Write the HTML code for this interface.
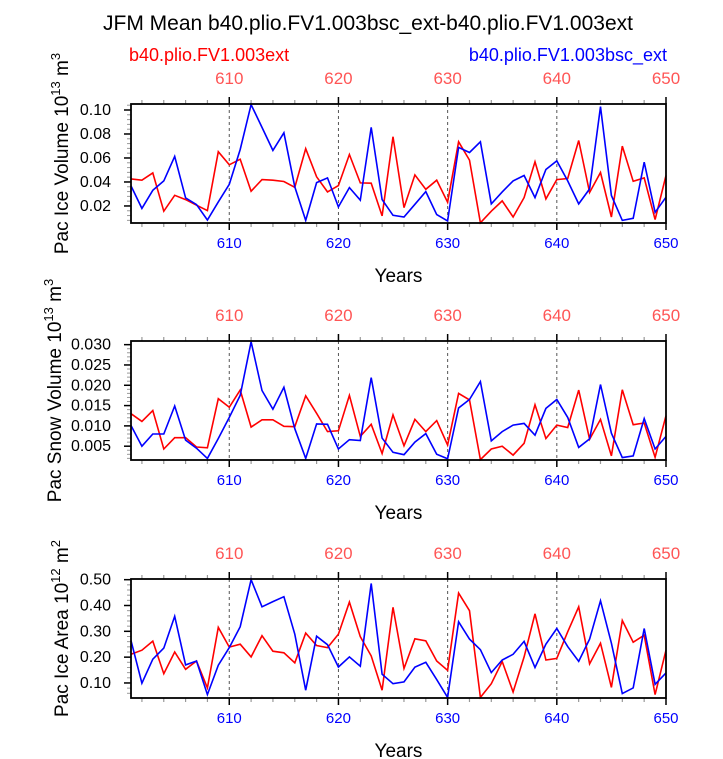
<!DOCTYPE html>
<html><head><meta charset="utf-8">
<style>
html,body{margin:0;padding:0;background:#fff;}
svg{display:block;font-family:"Liberation Sans",Arial,sans-serif;}
</style></head>
<body>
<svg id="chart" width="723" height="759" viewBox="0 0 723 759" xmlns="http://www.w3.org/2000/svg">
<text x="368" y="30" font-size="21" text-anchor="middle" fill="#000">JFM Mean b40.plio.FV1.003bsc_ext-b40.plio.FV1.003ext</text>
<text x="129" y="61" font-size="18" fill="#ff0000">b40.plio.FV1.003ext</text>
<text x="667" y="61" font-size="18" fill="#0000ff" text-anchor="end">b40.plio.FV1.003bsc_ext</text>
<g id="panels"></g>
</svg>
<script>
const years = [];
for (let y = 601; y <= 650; y++) years.push(y);
const xTicks = [610, 620, 630, 640, 650];

const iceVolRed = [0.0426,0.0415,0.0476,0.0156,0.0289,0.0253,0.0206,0.0161,0.0652,0.0543,0.0590,0.0323,0.0420,0.0415,0.0404,0.0356,0.0677,0.0443,0.0317,0.0370,0.0629,0.0392,0.0390,0.0117,0.0777,0.0186,0.0459,0.0339,0.0415,0.0231,0.0735,0.0582,0.0060,0.0156,0.0242,0.0108,0.0270,0.0568,0.0259,0.0420,0.0429,0.0746,0.0312,0.0479,0.0108,0.0699,0.0406,0.0434,0.0086,0.0454];
const iceVolBlue = [0.0367,0.0180,0.0331,0.0409,0.0613,0.0267,0.0211,0.0083,0.0234,0.0381,0.0671,0.1045,0.0855,0.0663,0.0810,0.0359,0.0080,0.0395,0.0434,0.0192,0.0353,0.0248,0.0855,0.0253,0.0122,0.0108,0.0214,0.0320,0.0128,0.0075,0.0688,0.0646,0.0735,0.0217,0.0317,0.0409,0.0454,0.0270,0.0504,0.0576,0.0409,0.0217,0.0342,0.1028,0.0287,0.0080,0.0097,0.0565,0.0147,0.0273];
const snowRed = [0.0130,0.0111,0.0138,0.0043,0.0071,0.0071,0.0048,0.0046,0.0167,0.0146,0.0188,0.0097,0.0115,0.0115,0.0099,0.0098,0.0174,0.0131,0.0086,0.0088,0.0175,0.0074,0.0104,0.0032,0.0127,0.0051,0.0116,0.0086,0.0113,0.0053,0.0180,0.0164,0.0017,0.0043,0.0050,0.0028,0.0057,0.0152,0.0069,0.0102,0.0096,0.0188,0.0067,0.0116,0.0026,0.0189,0.0103,0.0107,0.0023,0.0125];
const snowBlue = [0.0101,0.0050,0.0080,0.0080,0.0149,0.0065,0.0045,0.0020,0.0069,0.0121,0.0175,0.0307,0.0187,0.0141,0.0195,0.0093,0.0020,0.0105,0.0104,0.0043,0.0066,0.0064,0.0219,0.0070,0.0035,0.0029,0.0060,0.0081,0.0030,0.0019,0.0144,0.0165,0.0209,0.0063,0.0086,0.0102,0.0106,0.0077,0.0143,0.0165,0.0121,0.0047,0.0068,0.0202,0.0082,0.0022,0.0026,0.0118,0.0043,0.0074];
const areaRed = [0.211,0.227,0.262,0.136,0.220,0.153,0.185,0.081,0.315,0.239,0.250,0.201,0.283,0.223,0.217,0.178,0.293,0.245,0.237,0.289,0.413,0.279,0.205,0.072,0.393,0.156,0.271,0.263,0.185,0.149,0.448,0.380,0.044,0.097,0.183,0.065,0.201,0.368,0.189,0.195,0.298,0.395,0.174,0.254,0.083,0.342,0.258,0.285,0.055,0.227];
const areaBlue = [0.264,0.099,0.192,0.235,0.358,0.170,0.185,0.055,0.169,0.237,0.318,0.500,0.395,0.415,0.434,0.289,0.072,0.281,0.248,0.162,0.201,0.165,0.485,0.134,0.097,0.104,0.161,0.180,0.113,0.044,0.337,0.270,0.229,0.140,0.189,0.211,0.261,0.160,0.250,0.311,0.241,0.184,0.270,0.418,0.254,0.059,0.081,0.311,0.095,0.139];

const ticks1 = ["0.02","0.04","0.06","0.08","0.10"];
const ticks2 = ["0.005","0.010","0.015","0.020","0.025","0.030"];
const ticks3 = ["0.10","0.20","0.30","0.40","0.50"];

const panels = [
  {name:"ice-volume", top:104, bottom:223, ymin:0.0058, ymax:0.1050, ticks:ticks1, minor:0.004, title:["Pac Ice Volume 10","13"," m","3"], red:iceVolRed, blue:iceVolBlue},
  {name:"snow-volume", top:341, bottom:460, ymin:0.0016, ymax:0.0309, ticks:ticks2, minor:0.001, title:["Pac Snow Volume 10","13"," m","3"], red:snowRed, blue:snowBlue},
  {name:"ice-area", top:579, bottom:698, ymin:0.0418, ymax:0.5026, ticks:ticks3, minor:0.02, title:["Pac Ice Area 10","12"," m","2"], red:areaRed, blue:areaBlue}
];

const NS = "http://www.w3.org/2000/svg";
const X0 = 131, X1 = 666, YR0 = 601, YR1 = 650;
function xs(v){ return X0 + (v - YR0) * (X1 - X0) / (YR1 - YR0); }
function mk(tag, attrs, parent){
  const e = document.createElementNS(NS, tag);
  for (const k in attrs) e.setAttribute(k, attrs[k]);
  parent.appendChild(e); return e;
}
const root = document.getElementById('panels');
panels.forEach(p => {
  const g = mk('g', {}, root);
  
  
  const ys = v => p.bottom - (v - p.ymin) * (p.bottom - p.top) / (p.ymax - p.ymin);
  xTicks.slice(0, 4).forEach(t => {
    const l = mk('line', {x1:xs(t), x2:xs(t), y1:p.top, y2:p.bottom, stroke:'#555', 'stroke-width':1, 'stroke-dasharray':'3,3'}, g);
    
    
  });
  for (let yr = 602; yr <= 650; yr += 2) {
    const major = yr % 10 === 0;
    const len = major ? 7 : 4;
    mk('line', {x1:xs(yr), x2:xs(yr), y1:p.top, y2:p.top - len, stroke: major ? '#000' : '#999', 'stroke-width':major?1.5:1.2}, g);
    mk('line', {x1:xs(yr), x2:xs(yr), y1:p.bottom, y2:p.bottom + len, stroke: major ? '#000' : '#999', 'stroke-width':major?1.5:1.2}, g);
  }
  xTicks.forEach(t => {
    const a = mk('text', {x:xs(t), y:p.top - 20, 'font-size':17, 'text-anchor':'middle', fill:'#ff5555'}, g);
    a.textContent = t;
    
    
    const b = mk('text', {x:xs(t), y:p.bottom + 25, 'font-size':15, 'text-anchor':'middle', fill:'#0000ff'}, g);
    b.textContent = t;
    
    
  });
  const yt = mk('text', {x:(X0 + X1) / 2, y:p.bottom + 59, 'font-size':19, 'text-anchor':'middle', fill:'#000'}, g);
  yt.textContent = 'Years';
  
  
  const start = Math.ceil(p.ymin / p.minor) * p.minor;
  for (let v = start; v <= p.ymax + 1e-9; v += p.minor) {
    mk('line', {x1:X0, x2:X0 - 4, y1:ys(v), y2:ys(v), stroke:'#999', 'stroke-width':1}, g);
  }
  p.ticks.forEach(t => {
    const v = parseFloat(t);
    mk('line', {x1:X0, x2:X0 - 7, y1:ys(v), y2:ys(v), stroke:'#000', 'stroke-width':1.5}, g);
    const tl = mk('text', {x:X0 - 20, y:ys(v) + 5, 'font-size':16, 'text-anchor':'end', fill:'#000'}, g);
    tl.textContent = t;
    
    
  });
  const cy = (p.top + p.bottom) / 2 - 10;
  const tt = mk('text', {x:0, y:0, 'font-size':19, 'text-anchor':'middle', fill:'#000', transform:`translate(${p.name==='snow-volume'?61:68},${cy}) rotate(-90)`}, g);
  
  
  tt.appendChild(document.createTextNode(p.title[0]));
  let s1 = mk('tspan', {'font-size':13, dy:-8}, tt); s1.textContent = p.title[1];
  let s2 = mk('tspan', {dy:8}, tt); s2.textContent = p.title[2];
  let s3 = mk('tspan', {'font-size':13, dy:-8}, tt); s3.textContent = p.title[3];
  [['red', p.red, '#ff0000'], ['blue', p.blue, '#0000ff']].forEach(([nm, arr, col]) => {
    const pts = arr.map((v, i) => xs(years[i]).toFixed(1) + ',' + ys(v).toFixed(1)).join(' ');
    const pl = mk('polyline', {points:pts, fill:'none', stroke:col, 'stroke-width':1.6, 'stroke-linejoin':'miter'}, g);
    
    
  });
  const box = mk('rect', {x:X0, y:p.top, width:X1 - X0, height:p.bottom - p.top, fill:'none', stroke:'#000', 'stroke-width':1.8}, g);
  
  
});
</script>
</body></html>
